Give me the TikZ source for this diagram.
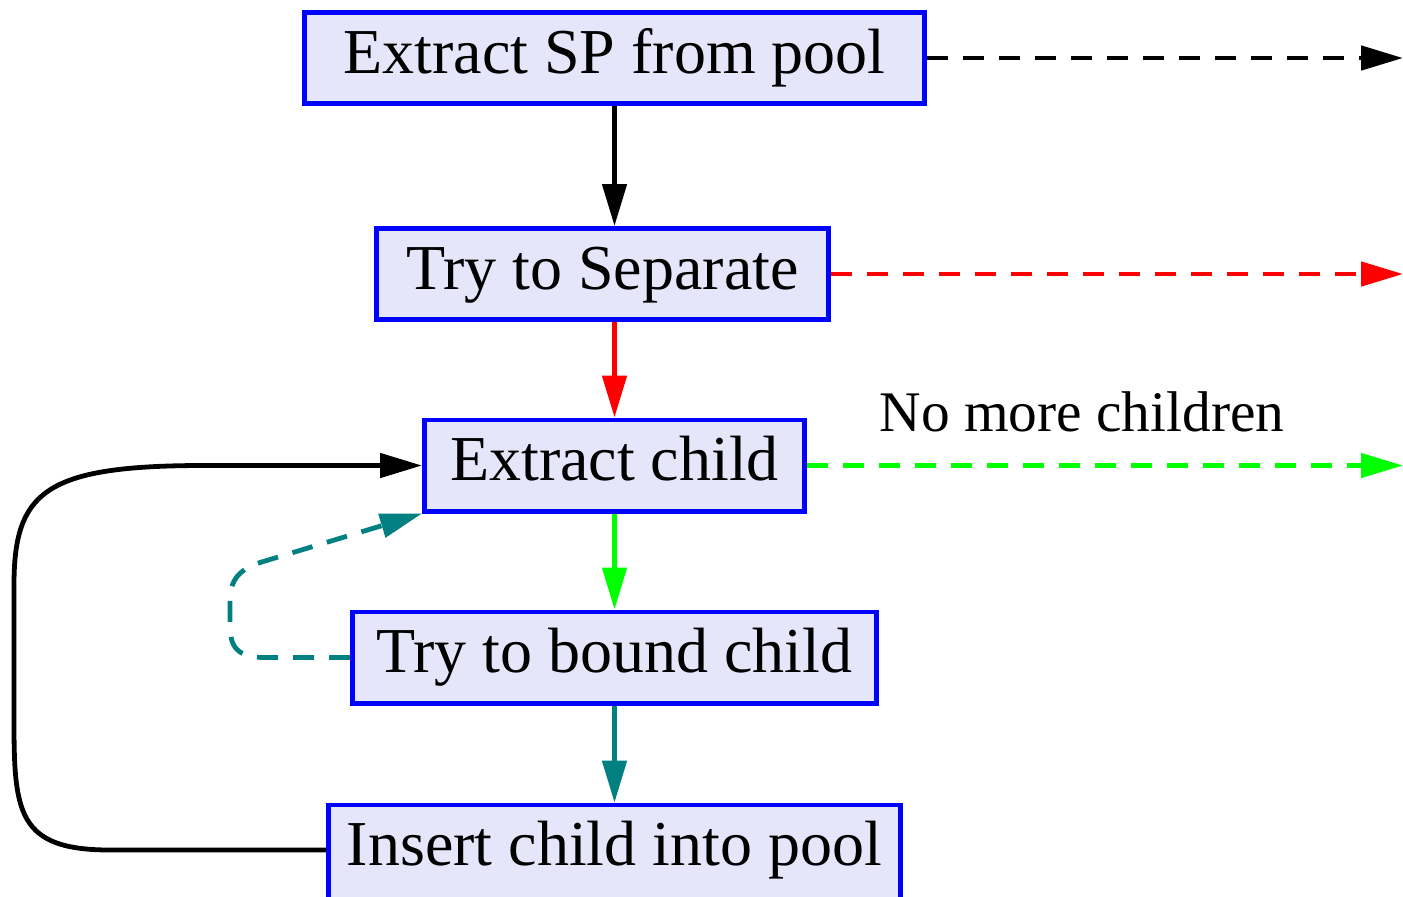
\documentclass[tikz,border=0pt]{standalone}
\usepackage{fontspec}
\setmainfont{Liberation Serif}
\usetikzlibrary{arrows.meta}
\definecolor{lavbox}{RGB}{230,230,250}
\definecolor{tealc}{RGB}{0,128,128}
\begin{document}
\begin{tikzpicture}[x=0.5pt,y=-0.5pt,
  box/.style={draw=blue, line width=2.4pt, fill=lavbox, inner sep=0pt,
    minimum height=45.6pt, text height=22pt, text depth=7pt,
    font=\fontsize{32}{38}\selectfont},
  flow/.style={line width=2.4pt, -{Triangle[length=21pt,width=12pt]}},
  dashflow/.style={flow, dash pattern=on 10.5pt off 7.5pt},
]
\useasboundingbox (0,0) rectangle (1403,896);

% process boxes (the last one runs off the bottom edge)
\node[box, minimum width=310.1pt] (sp)  at (614.5,58)    {Extract SP from pool};
\node[box, minimum width=226.1pt] (sep) at (602.5,274)   {Try to Separate};
\node[box, minimum width=190.1pt] (ext) at (614.5,465.5) {Extract child};
\node[box, minimum width=262.1pt] (bnd) at (614.5,657.5) {Try to bound child};
\node[box, minimum width=286.1pt, minimum height=60pt, text depth=21.5pt]
  (ins) at (614.5,865) {Insert child into pool};

% exits on the right
\coordinate (o1) at (1403,58);
\coordinate (o2) at (1403,274);
\coordinate (o3) at (1403,465.5);
\node[font=\fontsize{28.7}{34}\selectfont] (lbl) at (1082,412) {No more children};

% main flow
\draw[flow] (sp.south) -- (sp.south |- sep.north);
\draw[flow, red] (sep.south -| ext.north) -- (ext.north);
\draw[flow, green] (ext.south) -- (bnd.north);
\draw[flow, tealc] (bnd.south) -- (ins.north);

\draw[dashflow] (sp.east) -- (o1);
\draw[dashflow, red] (sep.east) -- (o2);
\draw[dashflow, green] (ext.east) -- (o3);

% loops back to "Extract child"
\draw[dashflow, tealc] (bnd.west) -- (265,657.5)
  .. controls (232,657.5) and (230,642) .. (230,622) -- (230,600)
  .. controls (230,576) and (244,567) .. (265,561) -- (ext.south west);
\draw[flow] (ins.west |- 0,850) -- (110,850)
  .. controls (18,850) and (14,813) .. (14,721) -- (14,585)
  .. controls (14,492) and (45,466) .. (200,465.5) -- (ext.west);
\end{tikzpicture}
\end{document}
